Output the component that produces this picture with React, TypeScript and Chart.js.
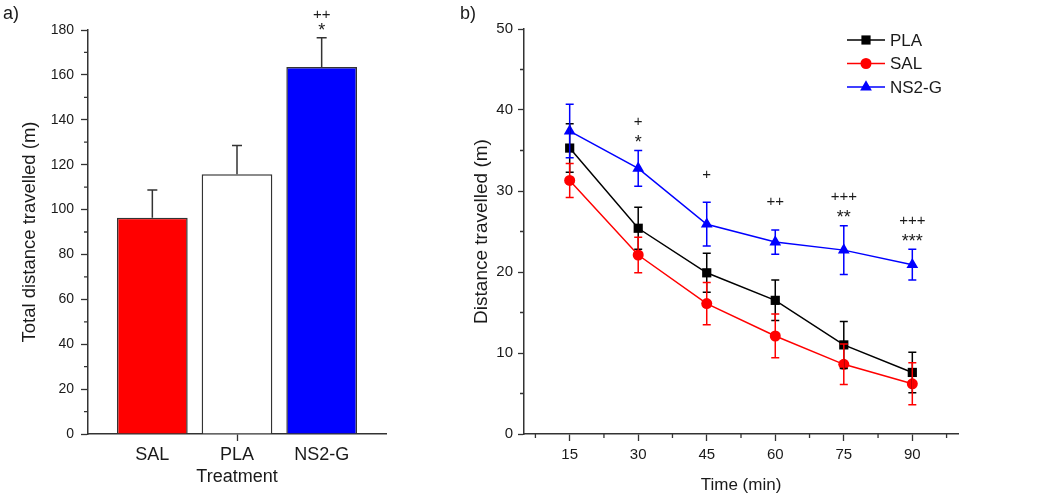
import React, { useEffect, useRef } from 'react';
import { Chart, registerables } from 'chart.js';

Chart.register(...registerables);

const FONT = '"Liberation Sans", Arial, sans-serif';
const AXIS = '#333333';
const TEXT = '#1a1a1a';

// ---------- Panel a) ----------
const barCategories = ['SAL', 'PLA', 'NS2-G'];
const barPositions = [1, 2, 3];
const barValues = [96.4, 115.7, 163.5];
const barErrors = [12.3, 12.8, 13.1];
const barColors = ['#ff0000', '#ffffff', '#0000ff'];
const barPlus = ['', '', '++'];
const barStars = ['', '', '*'];
const barYMinor = [10, 30, 50, 70, 90, 110, 130, 150, 170];

// ---------- Panel b) ----------
const timePoints = [15, 30, 45, 60, 75, 90];
const timeMinor = [7.5, 22.5, 37.5, 52.5, 67.5, 82.5, 97.5];
const distMinor = [5, 15, 25, 35, 45];
const plaValues = [35.3, 25.4, 19.9, 16.5, 11.0, 7.6];
const plaErrors = [3.0, 2.6, 2.4, 2.5, 2.9, 2.5];
const salValues = [31.3, 22.1, 16.1, 12.1, 8.6, 6.2];
const salErrors = [2.1, 2.2, 2.6, 2.7, 2.5, 2.6];
const ns2gValues = [37.4, 32.8, 25.9, 23.7, 22.7, 20.9];
const ns2gErrors = [3.3, 2.2, 2.7, 1.5, 3.0, 1.9];
const timePlus = ['', '+', '+', '++', '+++', '+++'];
const timeStars = ['', '*', '', '', '**', '***'];

function drawMarker(ctx: CanvasRenderingContext2D, style: string, x: number, y: number, r: number, color: string) {
  ctx.save();
  ctx.fillStyle = color;
  ctx.beginPath();
  if (style === 'rect') {
    const s = r * Math.SQRT1_2;
    ctx.rect(x - s, y - s, 2 * s, 2 * s);
  } else if (style === 'triangle') {
    let a = 0;
    ctx.moveTo(x + Math.sin(a) * r, y - Math.cos(a) * r);
    a += (2 * Math.PI) / 3;
    ctx.lineTo(x + Math.sin(a) * r, y - Math.cos(a) * r);
    a += (2 * Math.PI) / 3;
    ctx.lineTo(x + Math.sin(a) * r, y - Math.cos(a) * r);
    ctx.closePath();
  } else {
    ctx.arc(x, y, r, 0, Math.PI * 2);
  }
  ctx.fill();
  ctx.restore();
}

const errorBarPlugin = {
  id: 'errorBars',
  afterDatasetsDraw(chart: any) {
    const ctx = chart.ctx;
    chart.data.datasets.forEach((ds: any, di: number) => {
      if (!ds.errors) return;
      const meta = chart.getDatasetMeta(di);
      const yScale = chart.scales[meta.yAxisID];
      ctx.save();
      ctx.strokeStyle = ds.errorColor || ds.borderColor;
      ctx.lineWidth = 1.5;
      meta.data.forEach((el: any, i: number) => {
        const raw = ds.data[i];
        const v = typeof raw === 'number' ? raw : raw.y;
        const e = ds.errors[i];
        const x = el.x;
        const yTop = yScale.getPixelForValue(v + e);
        const yBot = yScale.getPixelForValue(ds.errorUpOnly ? v : v - e);
        const cap = ds.errorCap || 4;
        ctx.beginPath();
        ctx.moveTo(x, yTop);
        ctx.lineTo(x, yBot);
        ctx.moveTo(x - cap, yTop);
        ctx.lineTo(x + cap, yTop);
        if (!ds.errorUpOnly) {
          ctx.moveTo(x - cap, yBot);
          ctx.lineTo(x + cap, yBot);
        }
        ctx.stroke();
      });
      ctx.restore();
    });
  },
};

const extrasPlugin = {
  id: 'extras',
  afterDraw(chart: any, _args: any, opts: any) {
    const ctx = chart.ctx;
    ctx.save();
    // minor ticks
    const xs = chart.scales.x;
    const ys = chart.scales.y;
    ctx.strokeStyle = AXIS;
    ctx.lineWidth = 1.3;
    ctx.beginPath();
    (opts.xMinor || []).forEach((v: number) => {
      const px = xs.getPixelForValue(v);
      ctx.moveTo(px, xs.top);
      ctx.lineTo(px, xs.top + opts.minorLen);
    });
    (opts.yMinor || []).forEach((v: number) => {
      const py = ys.getPixelForValue(v);
      ctx.moveTo(ys.right - opts.minorLen, py);
      ctx.lineTo(ys.right, py);
    });
    ctx.stroke();

    // significance marks
    if (opts.sig) {
      const s = opts.sig;
      const ds = chart.data.datasets[s.datasetIndex];
      const meta = chart.getDatasetMeta(s.datasetIndex);
      ctx.fillStyle = TEXT;
      ctx.textAlign = 'center';
      ctx.textBaseline = 'alphabetic';
      meta.data.forEach((el: any, i: number) => {
        const raw = ds.data[i];
        const v = typeof raw === 'number' ? raw : raw.y;
        const top = ys.getPixelForValue(v + ds.errors[i]);
        const star = s.stars[i];
        const plus = s.plus[i];
        if (star) {
          ctx.font = `${s.starSize}px ${FONT}`;
          ctx.fillText(star, el.x, top - s.starGap + 0.57 * s.starSize);
        }
        if (plus) {
          ctx.font = `${s.size}px ${FONT}`;
          ctx.fillText(plus, el.x, top - (star ? s.plusGapStar : s.plusGap) + 0.35 * s.size);
        }
      });
    }

    // custom legend (line + marker)
    if (opts.legend) {
      const L = opts.legend;
      const area = chart.chartArea;
      ctx.font = `${L.size}px ${FONT}`;
      ctx.textAlign = 'left';
      ctx.textBaseline = 'middle';
      chart.data.datasets.forEach((ds: any, i: number) => {
        const y = L.top + i * L.spacing;
        const x0 = area.right + L.offset;
        ctx.strokeStyle = ds.borderColor;
        ctx.lineWidth = 1.5;
        ctx.beginPath();
        ctx.moveTo(x0, y);
        ctx.lineTo(x0 + L.lineLen, y);
        ctx.stroke();
        drawMarker(ctx, ds.pointStyle, x0 + L.lineLen / 2, y, ds.pointRadius, ds.borderColor);
        ctx.fillStyle = TEXT;
        ctx.fillText(ds.label, x0 + L.lineLen + 5, y + 1);
      });
    }

    // panel letter
    if (opts.panel) {
      ctx.fillStyle = TEXT;
      ctx.font = `18px ${FONT}`;
      ctx.textAlign = 'left';
      ctx.textBaseline = 'alphabetic';
      ctx.fillText(opts.panel.text, opts.panel.x, opts.panel.y);
    }
    ctx.restore();
  },
};

function barConfig(): any {
  return {
    type: 'bar',
    data: {
      datasets: [
        {
          data: barPositions.map((x, i) => ({ x, y: barValues[i] })),
          backgroundColor: barColors,
          borderColor: AXIS,
          borderWidth: 1.5,
          borderSkipped: 'bottom',
          barPercentage: 0.835,
          categoryPercentage: 1,
          errors: barErrors,
          errorUpOnly: true,
          errorColor: AXIS,
          errorCap: 5,
        },
      ],
    },
    plugins: [errorBarPlugin, extrasPlugin],
    options: {
      responsive: false,
      animation: false,
      events: [],
      layout: { padding: { left: 0, top: 30, right: 44, bottom: 0 } },
      plugins: {
        legend: { display: false },
        tooltip: { enabled: false },
        extras: {
          yMinor: barYMinor,
          minorLen: 4,
          sig: { datasetIndex: 0, plus: barPlus, stars: barStars, size: 15, starSize: 18, starGap: 12, plusGapStar: 24, plusGap: 24 },
          panel: { text: 'a)', x: 3, y: 19 },
        },
      },
      scales: {
        x: {
          type: 'linear',
          min: 0.24,
          max: 3.76,
          offset: false,
          afterBuildTicks: (s: any) => {
            s.ticks = barPositions.map((v) => ({ value: v }));
          },
          afterFit: (s: any) => {
            s.height = 66;
          },
          ticks: {
            autoSkip: false,
            maxRotation: 0,
            padding: 3,
            color: TEXT,
            font: { family: FONT, size: 18 },
            callback: (v: number) => {
              const idx = barPositions.indexOf(v);
              return idx >= 0 ? barCategories[idx] : '';
            },
          },
          grid: {
            offset: false,
            drawOnChartArea: false,
            drawTicks: true,
            tickLength: 7,
            tickWidth: 1.3,
            tickColor: (c: any) => (c.tick && c.tick.value === 2 ? AXIS : 'rgba(0,0,0,0)'),
          },
          border: { display: true, color: AXIS, width: 1.5 },
          title: {
            display: true,
            text: 'Treatment',
            color: TEXT,
            font: { family: FONT, size: 18 },
            padding: { top: 0, bottom: 12 },
          },
        },
        y: {
          min: 0,
          max: 180,
          afterFit: (s: any) => {
            s.width = 88;
          },
          ticks: {
            stepSize: 20,
            padding: 7,
            color: TEXT,
            font: { family: FONT, size: 14 },
          },
          grid: {
            drawOnChartArea: false,
            drawTicks: true,
            tickLength: 7,
            tickWidth: 1.3,
            tickColor: AXIS,
          },
          border: { display: true, color: AXIS, width: 1.5 },
          title: {
            display: true,
            text: 'Total distance travelled (m)',
            color: TEXT,
            font: { family: FONT, size: 18.5 },
            padding: { top: 19, bottom: 0 },
          },
        },
      },
    },
  };
}

function lineConfig(): any {
  const mk = (label: string, vals: number[], errs: number[], color: string, style: string, r: number) => ({
    label,
    data: timePoints.map((t, i) => ({ x: t, y: vals[i] })),
    borderColor: color,
    backgroundColor: color,
    borderWidth: 1.5,
    pointStyle: style,
    pointRadius: r,
    pointBorderWidth: 0,
    pointBackgroundColor: color,
    tension: 0,
    errors: errs,
    errorColor: color,
    errorCap: 4,
  });
  return {
    type: 'line',
    data: {
      datasets: [
        mk('PLA', plaValues, plaErrors, '#000000', 'rect', 6.5),
        mk('SAL', salValues, salErrors, '#ff0000', 'circle', 5.5),
        mk('NS2-G', ns2gValues, ns2gErrors, '#0000ff', 'triangle', 6.8),
      ],
    },
    plugins: [errorBarPlugin, extrasPlugin],
    options: {
      responsive: false,
      animation: false,
      events: [],
      layout: { padding: { left: 0, top: 29, right: 92, bottom: 0 } },
      plugins: {
        legend: { display: false },
        tooltip: { enabled: false },
        extras: {
          xMinor: timeMinor,
          yMinor: distMinor,
          minorLen: 4,
          sig: { datasetIndex: 2, plus: timePlus, stars: timeStars, size: 15, starSize: 18, starGap: 13, plusGapStar: 30, plusGap: 29 },
          legend: { top: 40, spacing: 23.5, offset: -111, lineLen: 38, size: 17 },
          panel: { text: 'b)', x: 30, y: 19 },
        },
      },
      scales: {
        x: {
          type: 'linear',
          min: 5,
          max: 100,
          afterBuildTicks: (s: any) => {
            s.ticks = timePoints.map((v) => ({ value: v }));
          },
          afterFit: (s: any) => {
            s.height = 66;
          },
          ticks: {
            autoSkip: false,
            maxRotation: 0,
            padding: 5,
            color: TEXT,
            font: { family: FONT, size: 15 },
          },
          grid: {
            drawOnChartArea: false,
            drawTicks: true,
            tickLength: 7,
            tickWidth: 1.3,
            tickColor: AXIS,
          },
          border: { display: true, color: AXIS, width: 1.5 },
          title: {
            display: true,
            text: 'Time (min)',
            color: TEXT,
            font: { family: FONT, size: 17 },
            padding: { top: 0, bottom: 4 },
          },
        },
        y: {
          min: 0,
          max: 50,
          afterFit: (s: any) => {
            s.width = 94;
          },
          ticks: {
            stepSize: 10,
            padding: 5,
            color: TEXT,
            font: { family: FONT, size: 15 },
          },
          grid: {
            drawOnChartArea: false,
            drawTicks: true,
            tickLength: 6,
            tickWidth: 1.3,
            tickColor: AXIS,
          },
          border: { display: true, color: AXIS, width: 1.5 },
          title: {
            display: true,
            text: 'Distance travelled (m)',
            color: TEXT,
            font: { family: FONT, size: 19 },
            padding: { top: 40, bottom: 0 },
          },
        },
      },
    },
  };
}

function ChartCanvas(props: { make: () => any; left: number; width: number }) {
  const ref = useRef<HTMLCanvasElement>(null);
  useEffect(() => {
    const chart = new Chart(ref.current as HTMLCanvasElement, props.make());
    return () => chart.destroy();
  }, []);
  return (
    <canvas
      ref={ref}
      width={props.width}
      height={500}
      style={{ position: 'absolute', left: props.left, top: 0, width: props.width, height: 500 }}
    />
  );
}

export default function App() {
  return (
    <div style={{ position: 'absolute', left: 0, top: 0, width: 1050, height: 500, background: '#ffffff', overflow: 'hidden' }}>
      <ChartCanvas make={barConfig} left={0} width={430} />
      <ChartCanvas make={lineConfig} left={430} width={620} />
    </div>
  );
}
